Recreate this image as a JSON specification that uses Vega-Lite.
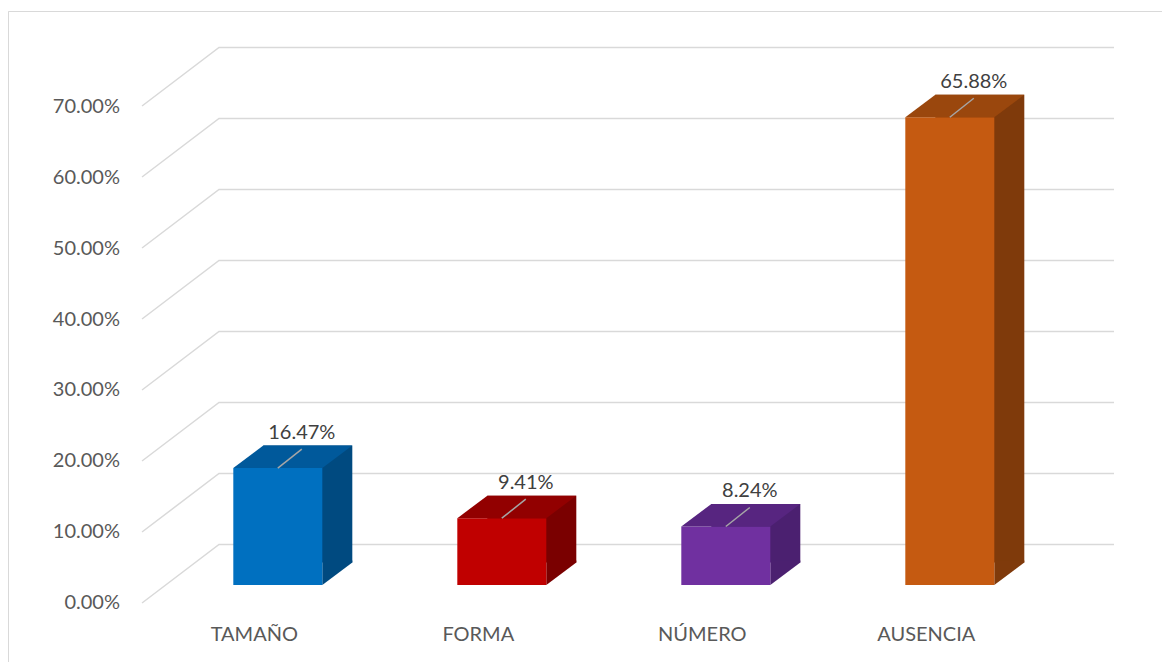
{
  "$schema": "https://vega.github.io/schema/vega-lite/v6.json",
  "width": 1154,
  "height": 651,
  "padding": {"left": 8, "top": 11, "right": 0, "bottom": 0},
  "autosize": {"type": "none"},
  "background": "white",
  "config": {
    "view": {"stroke": "#D9D9D9", "strokeWidth": 1, "strokeDash": [1154, 1805, 651]},
    "font": "Lato",
    "axisX": {"domain": false, "ticks": false, "tickSize": 0, "grid": false, "labelPadding": 0, "offset": -21.3, "labelBaseline": "alphabetic", "labelOffset": -23.5, "labelAngle": 0, "labelFont": "Lato", "labelFontSize": 20, "labelColor": "#595959"},
    "axisY": {"domain": false, "ticks": false, "tickSize": 0, "grid": false, "labelPadding": 0, "offset": -111.5, "labelOffset": 18, "labelFont": "Lato", "labelFontSize": 20, "labelColor": "#595959"}
  },
  "datasets": {
    "barras": [
      {"categoria": "TAMAÑO", "valor": 0.1647},
      {"categoria": "FORMA", "valor": 0.0941},
      {"categoria": "NÚMERO", "valor": 0.0824},
      {"categoria": "AUSENCIA", "valor": 0.6588}
    ],
    "marcas": [
      {"t": 0}, {"t": 0.1}, {"t": 0.2}, {"t": 0.3},
      {"t": 0.4}, {"t": 0.5}, {"t": 0.6}, {"t": 0.7}
    ]
  },
  "data": {"name": "barras"},
  "layer": [
    {
      "data": {"name": "marcas"},
      "mark": {"type": "point", "shape": "M-135.8,18L-58.8,-40.5L836.2,-40.5", "size": 4, "filled": false, "stroke": "#D9D9D9", "strokeWidth": 1.5, "opacity": 1},
      "encoding": {
        "x": {"datum": "TAMAÑO", "type": "nominal", "title": null},
        "y": {"field": "t", "type": "quantitative", "title": null}
      }
    },
    {
      "mark": {"type": "bar", "xOffset": 30, "x2Offset": 30, "yOffset": -22.5, "y2Offset": -22.5},
      "encoding": {
        "x": {"field": "categoria", "type": "nominal", "title": null},
        "y": {"field": "valor", "type": "quantitative", "title": null},
        "y2": {"datum": 0},
        "color": {"field": "categoria", "type": "nominal", "legend": null,
          "scale": {"domain": ["TAMAÑO", "FORMA", "NÚMERO", "AUSENCIA"], "range": ["#004A80", "#7A0000", "#4B2070", "#7F3A0B"]}}
      }
    },
    {
      "mark": {"type": "point", "shape": "M44.5,0L74.5,-22.5L74.5,-24.5L44.5,-24.5Z", "size": 4, "filled": true, "opacity": 1, "strokeWidth": 0},
      "encoding": {
        "x": {"field": "categoria", "type": "nominal", "title": null},
        "y": {"datum": 0, "type": "quantitative", "title": null},
        "color": {"field": "categoria", "type": "nominal", "legend": null,
          "scale": {"domain": ["TAMAÑO", "FORMA", "NÚMERO", "AUSENCIA"], "range": ["#004A80", "#7A0000", "#4B2070", "#7F3A0B"]}}
      }
    },
    {
      "mark": {"type": "bar"},
      "encoding": {
        "x": {"field": "categoria", "type": "nominal", "sort": null, "title": null,
          "scale": {"domain": ["TAMAÑO", "FORMA", "NÚMERO", "AUSENCIA"], "paddingInner": 0.60268, "paddingOuter": 0.87723, "align": 0.5733},
          "axis": {"title": null}},
        "y": {"field": "valor", "type": "quantitative", "title": null,
          "scale": {"domain": [-0.108451, 0.808451], "nice": false, "zero": false},
          "axis": {"title": null, "values": [0, 0.1, 0.2, 0.3, 0.4, 0.5, 0.6, 0.7], "format": ".2%"}},
        "y2": {"datum": 0},
        "color": {"field": "categoria", "type": "nominal", "legend": null,
          "scale": {"domain": ["TAMAÑO", "FORMA", "NÚMERO", "AUSENCIA"], "range": ["#0070C0", "#C00000", "#7030A0", "#C55A11"]}}
      }
    },
    {
      "mark": {"type": "point", "shape": "M-44.5,0L44.5,0L74.5,-22.5L-14.5,-22.5Z", "size": 4, "filled": true, "opacity": 1, "strokeWidth": 0},
      "encoding": {
        "x": {"field": "categoria", "type": "nominal", "title": null},
        "y": {"field": "valor", "type": "quantitative", "title": null},
        "color": {"field": "categoria", "type": "nominal", "legend": null,
          "scale": {"domain": ["TAMAÑO", "FORMA", "NÚMERO", "AUSENCIA"], "range": ["#00599B", "#920000", "#572580", "#9A470D"]}}
      }
    },
    {
      "mark": {"type": "point", "shape": "M0,0L24,-19", "size": 4, "filled": false, "stroke": "#A6A6A6", "strokeWidth": 1.5, "opacity": 1},
      "encoding": {
        "x": {"field": "categoria", "type": "nominal", "title": null},
        "y": {"field": "valor", "type": "quantitative", "title": null}
      }
    },
    {
      "mark": {"type": "text", "dx": 24, "dy": -29, "baseline": "alphabetic", "align": "center", "font": "Lato", "fontSize": 20, "color": "#404040"},
      "encoding": {
        "x": {"field": "categoria", "type": "nominal", "title": null},
        "y": {"field": "valor", "type": "quantitative", "title": null},
        "text": {"field": "valor", "type": "quantitative", "format": ".2%"}
      }
    }
  ],
  "resolve": {"scale": {"color": "independent"}}
}
